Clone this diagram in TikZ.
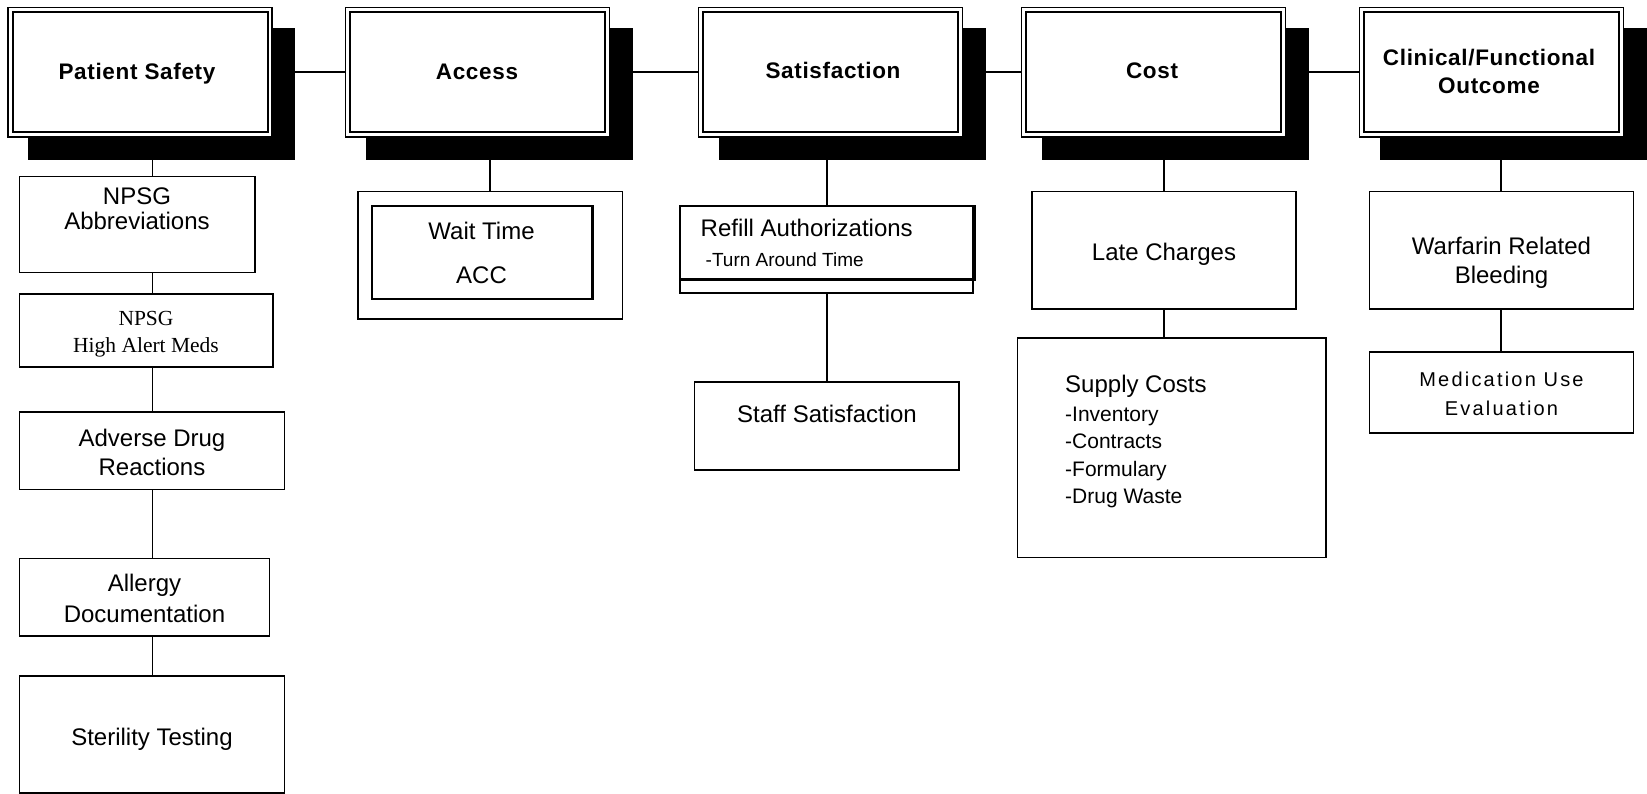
\documentclass[tikz,border=0pt]{standalone}
\usepackage{fontspec}
\setmainfont{Liberation Sans}
\newfontfamily\serifA{Liberation Serif}
\newfontfamily\spacedA[LetterSpace=11]{Liberation Sans}
\newfontfamily\boldA[LetterSpace=3]{Liberation Sans Bold}
\usetikzlibrary{fit}
\newcommand\topB[2]{%
  \node[shadowbox, fit={(#2+20,28.5)(#2+287,160)}] (#1S) {};
  \node[topbox, fit={(#2,7.5)(#2+264,137)}] (#1) {};
  \draw[line width=2pt] ([shift={(4.5pt,-4.5pt)}]#1.north west) rectangle ([shift={(-4.5pt,4.5pt)}]#1.south east);
}
\begin{document}
\begin{tikzpicture}[x=1pt,y=-1pt,
  topbox/.style={draw, fill=white, line width=1.1pt, inner sep=0pt, outer sep=0pt},
  shadowbox/.style={fill=black, draw=none, inner sep=0pt, outer sep=0pt},
  subbox/.style={draw, fill=white, line width=1.6pt, inner sep=0pt, outer sep=0pt},
  thickbox/.style={draw, line width=2.2pt, inner sep=0pt, outer sep=0pt},
  conn/.style={line width=1.5pt},
  ttl/.style={font=\boldA\fontsize{22.5}{27}\selectfont, inner sep=0pt, anchor=base},
  txt/.style={font=\fontsize{24}{28}\selectfont, inner sep=0pt, anchor=base},
  txts/.style={font=\fontsize{21}{26}\selectfont, inner sep=0pt, anchor=base west},
  txtt/.style={font=\fontsize{19}{23}\selectfont, inner sep=0pt, anchor=base west},
  txtserif/.style={font=\serifA\fontsize{21.5}{26}\selectfont, inner sep=0pt, anchor=base},
  txtsp/.style={font=\spacedA\fontsize{20}{24}\selectfont, inner sep=0pt, anchor=base}
]
\useasboundingbox (0,0) rectangle (1647,794);

% top row
\topB{ps}{8}
\topB{acc}{345.5}
\topB{sat}{698.5}
\topB{cost}{1021.5}
\topB{clin}{1359.5}

\node[ttl] (tps) at (137,80) {Patient Safety};
\node[ttl] (tacc) at (477,80) {Access};
\node[ttl] (tsat) at (833,79) {Satisfaction};
\node[ttl] (tcost) at (1152,79) {Cost};
\node[ttl] (tclin1) at (1489,65.5) {Clinical/Functional};
\node[ttl] (tclin2) at (1489,93.5) {Outcome};

\draw[conn] (ps.east) -- (acc.west);
\draw[conn] (acc.east) -- (sat.west);
\draw[conn] (sat.east) -- (cost.west);
\draw[conn] (cost.east) -- (clin.west);

% column coordinates
\coordinate (v1) at (152.5,0);
\coordinate (v2) at (490,0);
\coordinate (v3) at (827,0);
\coordinate (v4) at (1164,0);
\coordinate (v5) at (1501,0);

% Patient Safety column
\node[subbox, fit={(19.5,176.5)(255,272.5)}] (abbr) {};
\node[subbox, fit={(19.5,294)(273,366.7)}] (hi) {};
\node[subbox, fit={(19.5,411.7)(284.5,489.5)}] (adr) {};
\node[subbox, fit={(19.5,558.3)(269.3,636)}] (all) {};
\node[subbox, fit={(19.5,675.7)(284.3,792.7)}] (ster) {};

\node[txt] (tabbr1) at (137,205) {NPSG};
\node[txt] (tabbr2) at (137,229.5) {Abbreviations};
\node[txtserif] (thi1) at (146,326) {NPSG};
\node[txtserif] (thi2) at (146,352.5) {High Alert Meds};
\node[txt] (tadr1) at (152,446.5) {Adverse Drug};
\node[txt] (tadr2) at (152,475) {Reactions};
\node[txt] (tall1) at (144.5,591.5) {Allergy};
\node[txt] (tall2) at (144.5,622.5) {Documentation};
\node[txt] (tster) at (152,745.5) {Sterility Testing};

\draw[conn] (v1 |- psS.south) -- (v1 |- abbr.north);
\draw[conn] (v1 |- abbr.south) -- (v1 |- hi.north);
\draw[conn] (v1 |- hi.south) -- (v1 |- adr.north);
\draw[conn] (v1 |- adr.south) -- (v1 |- all.north);
\draw[conn] (v1 |- all.south) -- (v1 |- ster.north);

% Access column
\node[subbox, fit={(357.7,191.7)(622.4,319.3)}] (accout) {};
\node[thickbox, fit={(372.2,206)(592.5,299)}] (accin) {};
\node[txt] (twait) at (481.5,240) {Wait Time};
\node[txt] (tacc2) at (481.5,284) {ACC};
\draw[conn] (v2 |- accS.south) -- (v2 |- accout.north);

% Satisfaction column
\node[subbox, fit={(680,206)(973,293)}] (refout) {};
\node[thickbox, fit={(680,206)(975,279.5)}] (refin) {};
\node[txt, anchor=base west] (tref1) at (700.5,236.5) {Refill Authorizations};
\node[txtt] (tref2) at (705.5,267) {-Turn Around Time};
\node[subbox, fit={(694.6,381.7)(959,470)}] (staff) {};
\node[txt] (tstaff) at (827,422) {Staff Satisfaction};
\draw[conn] (v3 |- satS.south) -- (v3 |- refin.north);
\draw[conn] (v3 |- refout.south) -- (v3 |- staff.north);

% Cost column
\node[subbox, fit={(1031.7,191.7)(1296,309)}] (late) {};
\node[txt] (tlate) at (1164,260.5) {Late Charges};
\node[subbox, fit={(1017.4,338.3)(1326,557.3)}] (sup) {};
\node[txt, anchor=base west] (tsup0) at (1065,392.5) {Supply Costs};
\node[txts] (tsup1) at (1065,421) {-Inventory};
\node[txts] (tsup2) at (1065,448.7) {-Contracts};
\node[txts] (tsup3) at (1065,476.3) {-Formulary};
\node[txts] (tsup4) at (1065,503) {-Drug Waste};
\draw[conn] (v4 |- costS.south) -- (v4 |- late.north);
\draw[conn] (v4 |- late.south) -- (v4 |- sup.north);

% Clinical column
\node[subbox, fit={(1369.3,191.7)(1633.3,309)}] (warf) {};
\node[txt] (twarf1) at (1501.5,255) {Warfarin Related};
\node[txt] (twarf2) at (1501.5,283.5) {Bleeding};
\node[subbox, fit={(1369.3,352.3)(1633.3,432.7)}] (meu) {};
\node[txtsp] (tmeu1) at (1501.5,386.7) {Medication Use};
\node[txtsp] (tmeu2) at (1501.5,415) {Evaluation};
\draw[conn] (v5 |- clinS.south) -- (v5 |- warf.north);
\draw[conn] (v5 |- warf.south) -- (v5 |- meu.north);
\end{tikzpicture}
\end{document}
